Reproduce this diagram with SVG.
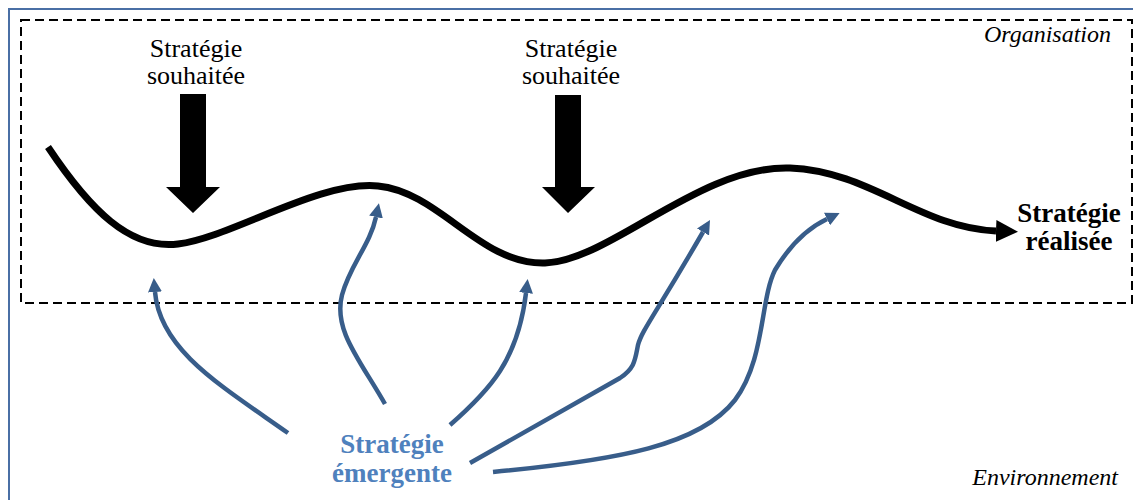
<svg xmlns="http://www.w3.org/2000/svg" width="1133" height="500" viewBox="0 0 1133 500">
<defs>
<marker id="ba" viewBox="0 0 14 14" refX="0" refY="7" markerWidth="14" markerHeight="14" markerUnits="userSpaceOnUse" orient="auto">
<path d="M0,0 L14,7 L0,14 z" fill="#385D8A"/>
</marker>
<marker id="ka" viewBox="0 0 22 22" refX="0" refY="11" markerWidth="22" markerHeight="22" markerUnits="userSpaceOnUse" orient="auto">
<path d="M0,0 L22,11 L0,22 z" fill="#000"/>
</marker>
</defs>
<rect width="1133" height="500" fill="#fff"/>
<g id="environnement">
<rect x="9" y="9" width="1140" height="510" fill="none" stroke="#4A6FA5" stroke-width="2"/>
<text x="1118" y="485" font-family="Times New Roman" font-size="24" font-style="italic" text-anchor="end">Environnement</text>
</g>
<g id="organisation">
<rect x="21" y="20" width="1111" height="283" fill="none" stroke="#000" stroke-width="2" stroke-dasharray="9,5"/>
<text x="1111" y="42" font-family="Times New Roman" font-size="24" font-style="italic" text-anchor="end">Organisation</text>
</g>
<g id="souhaitee1">
<text x="196" y="57" font-family="Times New Roman" font-size="26" text-anchor="middle">Stratégie</text>
<text x="196" y="84" font-family="Times New Roman" font-size="26" text-anchor="middle">souhaitée</text>
<path d="M180,94 H206 V187 H220 L193,213 L166,187 H180 Z" fill="#000"/>
</g>
<g id="souhaitee2">
<text x="571" y="57" font-family="Times New Roman" font-size="26" text-anchor="middle">Stratégie</text>
<text x="571" y="84" font-family="Times New Roman" font-size="26" text-anchor="middle">souhaitée</text>
<path d="M555,95 H581 V187 H595 L568,213 L542,187 H555 Z" fill="#000"/>
</g>
<g id="realisee">
<text x="1069" y="222" font-family="Times New Roman" font-size="27" font-weight="bold" text-anchor="middle">Stratégie</text>
<text x="1069" y="250" font-family="Times New Roman" font-size="27" font-weight="bold" text-anchor="middle">réalisée</text>
</g>
<g id="emergente">
<text x="392" y="453" font-family="Times New Roman" font-size="27" font-weight="bold" fill="#4F81BD" text-anchor="middle">Stratégie</text>
<text x="392" y="482" font-family="Times New Roman" font-size="27" font-weight="bold" fill="#4F81BD" text-anchor="middle">émergente</text>
</g>
<g id="connectors" fill="none">
<path stroke="#000" stroke-width="7" marker-end="url(#ka)" d="M48,147 C90,210 130,250 178,244 C230,238 320,180 378,186 C440,192 480,265 545,263 C610,261 700,165 790,168 C870,171 920,228 996,231"/>
<g stroke="#385D8A" stroke-width="4.5">
<path marker-end="url(#ba)" d="M288,433 C220,385 160,350 155,292"/>
<path marker-end="url(#ba)" d="M385,404 C360,360 333,330 342,295 C350,265 370,245 376,217"/>
<path marker-end="url(#ba)" d="M450,425 C490,390 518,360 526,293"/>
<path marker-end="url(#ba)" d="M470,463 L620,378 C635,368 635,360 638,345 C642,330 655,315 703,232"/>
<path marker-end="url(#ba)" d="M493,472 C620,460 700,445 735,400 C765,360 760,300 775,270 C790,245 808,228 827,219"/>
</g>
</g>
</svg>
